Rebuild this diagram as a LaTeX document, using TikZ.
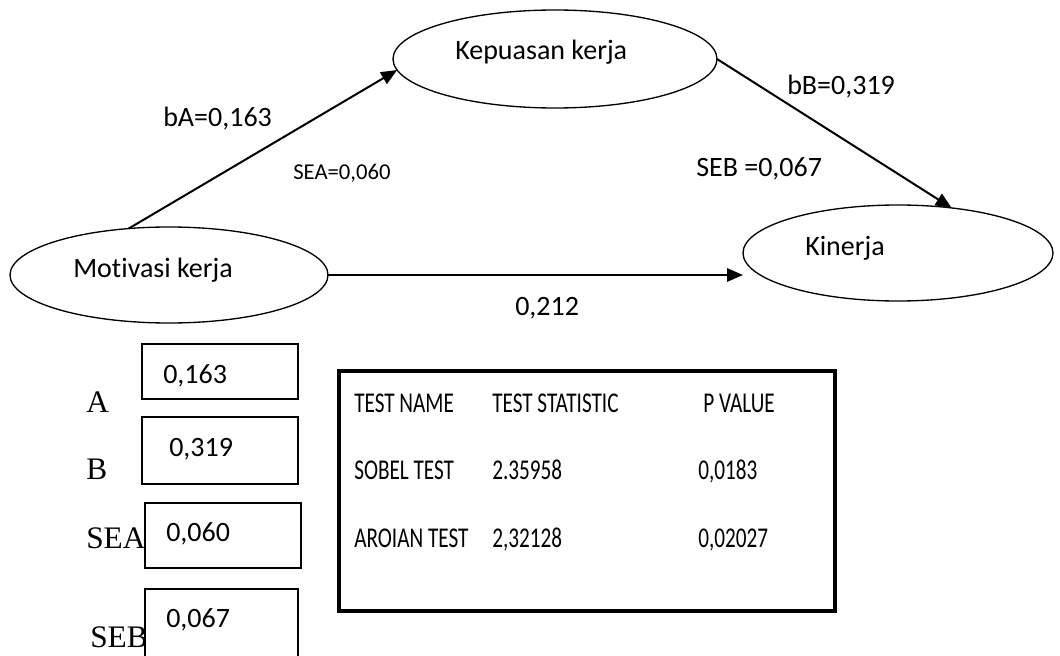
\documentclass[tikz,border=0pt]{standalone}
\usepackage{fontspec}
\setmainfont{Carlito}[Ligatures=NoCommon]
\newfontfamily\labfont{Liberation Serif}
\newfontfamily\tabfont[FakeStretch=0.74, Ligatures=NoCommon]{Carlito}
\usetikzlibrary{arrows.meta}
\usetikzlibrary{shapes.geometric}

\begin{document}
\begin{tikzpicture}[x=0.75pt, y=-0.75pt,
    var/.style={draw, ellipse, line width=1pt, inner sep=0pt, outer sep=0pt},
    txt/.style={anchor=base west, inner sep=0pt, font=\fontsize{21}{25}\selectfont},
    small/.style={txt, font=\fontsize{17}{20}\selectfont},
    lab/.style={txt, font=\fontsize{23.5}{27}\labfont},
    tab/.style={txt, font=\fontsize{21.5}{25}\tabfont},
    path/.style={line width=1.5pt, -{Triangle[length=12pt, width=10pt]}},
    valbox/.style={draw, line width=1pt}]
        \useasboundingbox (0,0) rectangle (1060,656);

        % latent variables
        \node[var, minimum width=238.5pt, minimum height=72pt] (Motivasi) at (169,275) {};
        \node[var, minimum width=243pt, minimum height=73.5pt] (Kepuasan) at (555,59) {};
        \node[var, minimum width=232.5pt, minimum height=72pt] (Kinerja) at (898,253) {};

        \node[txt] (tMotivasi) at (73,277) {Motivasi kerja};
        \node[txt] (tKepuasan) at (455,60) {Kepuasan kerja};
        \node[txt] (tKinerja) at (805,255) {Kinerja};

        % paths
        \draw[path] (Motivasi.131) -- (Kepuasan.184);
        \draw[path] (Kepuasan.east) -- (Kinerja.40);
        \draw[path] (Motivasi.east) -- (Motivasi.east -| Kinerja.west);

        \node[txt] (bA) at (163,127) {bA=0,163};
        \node[small] (SEA) at (293,180) {SEA=0,060};
        \node[txt] (bB) at (787,95) {bB=0,319};
        \node[txt] (SEB) at (696,176) {SEB =0,067};
        \node[txt] (direct) at (515,315) {0,212};

        % input values
        \draw[valbox] (142,344) rectangle (298,399);
        \draw[valbox] (142,417) rectangle (298,484);
        \draw[valbox] (145,503) rectangle (301,568);
        \draw[valbox] (145,589) rectangle (298,670);

        \node[txt] (vA) at (163,383) {0,163};
        \node[txt] (vB) at (169,456) {0,319};
        \node[txt] (vSEA) at (166,541) {0,060};
        \node[txt] (vSEB) at (166,627) {0,067};

        \node[lab] (lA) at (86,412) {A};
        \node[lab] (lB) at (86,479) {B};
        \node[lab] (lSEA) at (86,548) {SEA};
        \node[lab] (lSEB) at (90,647) {SEB};

        % sobel test results
        \draw[line width=3pt] (339,371) rectangle (835,611);

        \node[tab] (h1) at (354,412) {TEST NAME};
        \node[tab] (h2) at (492,412) {TEST STATISTIC};
        \node[tab] (h3) at (703,412) {P VALUE};
        \node[tab] (s1) at (354,479) {SOBEL TEST};
        \node[tab] (s2) at (492,479) {2.35958};
        \node[tab] (s3) at (698,479) {0,0183};
        \node[tab] (a1) at (354,547) {AROIAN TEST};
        \node[tab] (a2) at (492,547) {2,32128};
        \node[tab] (a3) at (698,547) {0,02027};

    \end{tikzpicture}
\end{document}
